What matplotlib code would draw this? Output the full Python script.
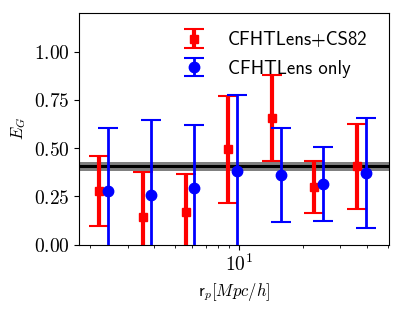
import math
import matplotlib
matplotlib.use('Agg')
import matplotlib.pyplot as plt
from matplotlib.ticker import FuncFormatter, NullFormatter

# E_G measurements vs projected separation
r_comb = [2.20, 3.52, 5.61, 8.88, 14.25, 22.5, 36.0]
eg_comb = [0.278, 0.143, 0.167, 0.494, 0.656, 0.297, 0.406]
err_comb = [0.180, 0.232, 0.199, 0.279, 0.222, 0.135, 0.222]

r_cfht = [2.42, 3.87, 6.17, 9.77, 15.7, 24.8, 39.5]
eg_cfht = [0.278, 0.257, 0.294, 0.382, 0.361, 0.314, 0.371]
err_cfht = [0.326, 0.391, 0.326, 0.394, 0.243, 0.190, 0.284]

# GR prediction
eg_gr = 0.405
eg_gr_err = 0.023

label_comb = 'CFHTLens+CS82'
label_cfht = 'CFHTLens only'

plt.rcParams['mathtext.fontset'] = 'cm'

fig = plt.figure(figsize=(4.02, 3.09), dpi=100)
ax = fig.add_axes([0.1973, 0.2087, 0.7711, 0.7483])

ax.axhspan(eg_gr - eg_gr_err, eg_gr + eg_gr_err, color='0.5', lw=0, zorder=1)
ax.axhline(eg_gr, color='k', lw=2.2, zorder=1.5)

ax.errorbar(r_comb, eg_comb, yerr=err_comb, fmt='s', color='red', ms=6,
            elinewidth=3, capsize=7.5, capthick=1.5, label=label_comb, zorder=2)
ax.errorbar(r_cfht, eg_cfht, yerr=err_cfht, fmt='o', color='blue', ms=7.5,
            elinewidth=2, capsize=7.5, capthick=1.5, label=label_cfht, zorder=3)

ax.set_xscale('log')
ax.set_xlim(1.775, 50.9)
ax.set_ylim(0, 1.2)
ax.set_yticks([0, 0.25, 0.5, 0.75, 1.0])
ax.yaxis.set_major_formatter(FuncFormatter(lambda v, p: r'$%.2f$' % v))
ax.xaxis.set_major_formatter(FuncFormatter(lambda v, p: r'$10^{%d}$' % round(math.log10(v))))
ax.xaxis.set_minor_formatter(NullFormatter())
ax.tick_params(labelsize=14)

ax.set_xlabel(r'$\mathsf{r}_p[Mpc/h]$', fontsize=12)
ax.set_ylabel(r'$E_G$', fontsize=12)

leg = ax.legend(loc='upper right', frameon=False, prop={'family': 'cmss10', 'size': 13.5},
                labelspacing=0.55, bbox_to_anchor=(0.985, 0.995))

fig.savefig('out.png', dpi=100)
